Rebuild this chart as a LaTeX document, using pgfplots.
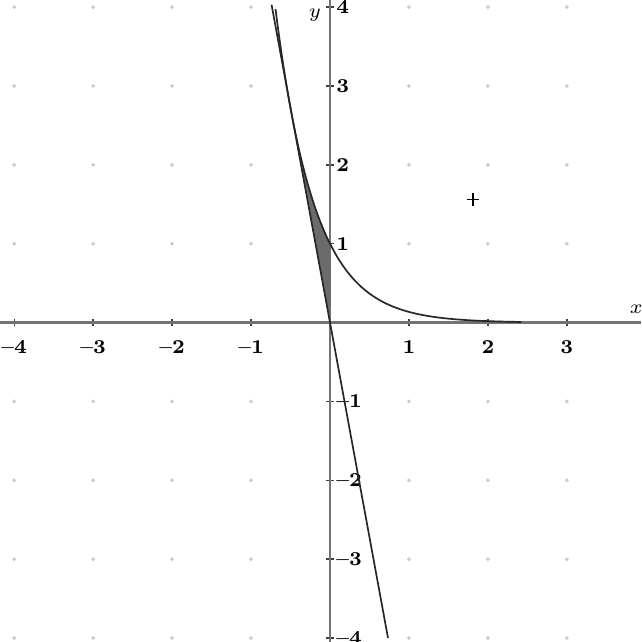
\documentclass[border=0pt]{standalone}
\usepackage{pgfplots}
\pgfplotsset{compat=1.18}
\begin{document}
\begin{tikzpicture}
\begin{axis}[
  scale only axis, width=8.013cm, height=8.025cm,
  xmin=-4.18, xmax=3.94, ymin=-4.05, ymax=4.09,
  axis lines=middle,
  axis line style={black!55, line width=0.8pt, -},
  xtick={-4,-3,-2,-1,1,2,3},
  xticklabels={\textbf{--4},\textbf{--3},\textbf{--2},\textbf{--1},\textbf{1},\textbf{2},\textbf{3}},
  ytick={-4,-3,-2,-1,1,2,3,4},
  yticklabels={\textbf{--4},\textbf{--3},\textbf{--2},\textbf{--1},\textbf{1},\textbf{2},\textbf{3},\textbf{4}},
  tick align=center, major tick length=2.5pt,
  tick style={black!75, line width=0.5pt},
  xticklabel style={font=\fontsize{7}{8}\selectfont, anchor=north, yshift=-1.5pt},
  yticklabel style={font=\fontsize{7}{8}\selectfont, anchor=west, xshift=0pt},
  every axis x label/.style={at={(axis cs:3.88,0.17)}, anchor=center, font=\fontsize{7}{8}\selectfont},
  every axis y label/.style={at={(axis cs:-0.19,3.9)}, anchor=center, font=\fontsize{7}{8}\selectfont},
  xlabel={$x$}, ylabel={$y$},
]
% faint grid dots
\addplot[only marks, mark=*, mark size=0.45pt, gray!40] coordinates {
(-4,-4)(-4,-3)(-4,-2)(-4,-1)(-4,1)(-4,2)(-4,3)(-4,4)
(-3,-4)(-3,-3)(-3,-2)(-3,-1)(-3,1)(-3,2)(-3,3)(-3,4)
(-2,-4)(-2,-3)(-2,-2)(-2,-1)(-2,1)(-2,2)(-2,3)(-2,4)
(-1,-4)(-1,-3)(-1,-2)(-1,-1)(-1,1)(-1,2)(-1,3)(-1,4)
(1,-4)(1,-3)(1,-2)(1,-1)(1,1)(1,2)(1,3)(1,4)
(2,-4)(2,-3)(2,-2)(2,-1)(2,1)(2,2)(2,3)(2,4)
(3,-4)(3,-3)(3,-2)(3,-1)(3,1)(3,2)(3,3)(3,4)
};
% shaded region
\addplot[fill=black!58, draw=black!58, line width=0.2pt] coordinates {
(0,0) (-0.5,2.718) (-0.45,2.460) (-0.4,2.2255) (-0.35,2.0138) (-0.3,1.8221)
(-0.25,1.6487) (-0.2,1.4918) (-0.15,1.3499) (-0.1,1.2214) (-0.05,1.1052) (0,1)
} -- cycle;
% curve
\addplot[black!85, line width=0.6pt, smooth] coordinates {
(-0.69,3.975) (-0.65,3.669) (-0.6,3.320) (-0.55,3.004) (-0.5,2.718) (-0.45,2.460)
(-0.4,2.2255) (-0.35,2.0138) (-0.3,1.8221) (-0.25,1.6487) (-0.2,1.4918) (-0.15,1.3499)
(-0.1,1.2214) (-0.05,1.1052) (0,1) (0.1,0.8187) (0.2,0.6703) (0.3,0.5488) (0.4,0.4493)
(0.5,0.3679) (0.6,0.3012) (0.7,0.2466) (0.8,0.2019) (0.9,0.1653) (1.0,0.1353)
(1.1,0.1108) (1.2,0.0907) (1.3,0.0743) (1.4,0.0608) (1.5,0.0498) (1.6,0.0408)
(1.7,0.0334) (1.8,0.0273) (1.9,0.0224) (2.0,0.0183) (2.2,0.0123) (2.42,0.0079)
};
% tangent line
\addplot[black!85, line width=0.6pt] coordinates {(-0.74,4.03) (0.735,-4.0)};
% plus marker
\addplot[only marks, mark=+, mark size=2.2pt, black, line width=0.6pt] coordinates {(1.81,1.56)};
\end{axis}
\pgfresetboundingbox
\path (current axis.south west) rectangle (current axis.north east);
\end{tikzpicture}
\end{document}
